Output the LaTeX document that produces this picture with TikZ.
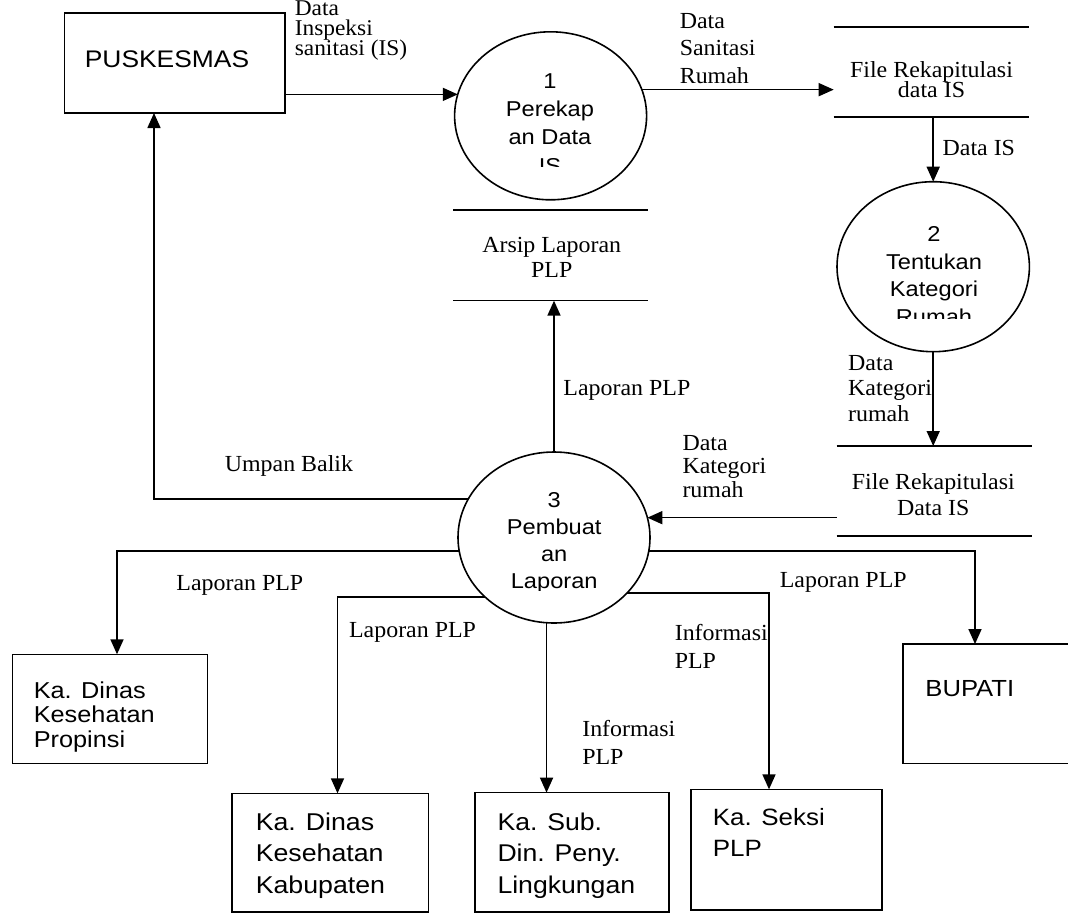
\documentclass[tikz,border=0pt]{standalone}
\usepackage{fontspec}
\setmainfont{Liberation Serif}
\newfontfamily\lblserif{Liberation Serif}[FakeStretch=1.04]
\newfontfamily\lblsans{Liberation Sans}[FakeStretch=1.1]
\usetikzlibrary{arrows.meta,shapes.geometric}

\begin{document}
\begin{tikzpicture}[x=1pt, y=-1pt, line width=1.6pt,
  flow/.style={draw, -{Triangle[length=15pt,width=13pt]}},
  entity/.style 2 args={draw, rectangle, inner sep=0pt, outer sep=0pt,
    minimum width=#1, minimum height=#2},
  store/.style 2 args={rectangle, inner sep=0pt, outer sep=0pt,
    minimum width=#1, minimum height=#2},
  proc/.style 2 args={draw, ellipse, inner sep=0pt, outer sep=0pt,
    minimum width=#1, minimum height=#2},
  serif/.style 2 args={inner sep=0pt, align=left,
    font={\lblserif\fontsize{#1}{#2}\selectfont\lineskiplimit=-100pt}},
  sans/.style 2 args={inner sep=0pt, align=left,
    font={\lblsans\fontsize{#1}{#2}\selectfont\lineskiplimit=-100pt}},
]
\useasboundingbox (0,0) rectangle (1068,914);
% note: text nodes are placed at the baseline of their last line

% external entities
\node[entity={220.6pt}{100pt}] (PUSK) at (174.7,63) {};
\node[sans={24}{28}, anchor=base] (PUSKt) at (167,67) {PUSKESMAS};
\node[entity={195pt}{109pt}] (Prop) at (109.8,708.8) {};
\node[sans={23}{24.5}, anchor=base west] (Propt) at (33,747) {Ka. Dinas\\Kesehatan\\Propinsi};
\node[entity={196.6pt}{118.7pt}] (Kab) at (330,852.7) {};
\node[sans={24.3}{31.6}, anchor=base west] (Kabt) at (255,893.2) {Ka. Dinas\\Kesehatan\\Kabupaten};
\node[entity={194pt}{119.3pt}] (Sub) at (572,852.3) {};
\node[sans={24.2}{31.6}, anchor=base west] (Subt) at (496.7,893.2) {Ka. Sub.\\Din. Peny.\\Lingkungan};
\node[entity={191pt}{120.7pt}] (Sek) at (786.5,849.7) {};
\node[sans={23.6}{31.7}, anchor=base west] (Sekt) at (712,856.7) {Ka. Seksi\\PLP};
\node[entity={197pt}{119.3pt}] (Bup) at (1001.5,703.7) {};
\node[sans={23.3}{28}, anchor=base west] (Bupt) at (924.6,696.7) {BUPATI};

% processes (their text boxes cut off the last line)
\node[proc={192pt}{168pt}] (P1) at (550.6,115.8) {};
\node[proc={192.4pt}{170pt}] (P2) at (933.2,266.7) {};
\node[proc={192pt}{171pt}] (P3) at (554,537.5) {};
\begin{scope}
  \clip (450,30) rectangle (650,166.7);
  \node[sans={21.5}{28.3}, align=center, anchor=base] (P1t) at (550,173.2) {1\\Perekap\\an Data\\IS};
\end{scope}
\begin{scope}
  \clip (835,180) rectangle (1032,318.3);
  \node[sans={21.5}{27.7}, align=center, anchor=base] (P2t) at (934,324.6) {2\\Tentukan\\Kategori\\Rumah};
\end{scope}
\begin{scope}
  \clip (455,450) rectangle (652,590);
  \node[sans={21.5}{27}, align=center, anchor=base] (P3t) at (554.2,588) {3\\Pembuat\\an\\Laporan};
\end{scope}

% data stores
\node[store={195.6pt}{90pt}] (S1) at (931.5,71.7) {};
\node[serif={23}{20.6}, align=center, anchor=base] (S1t) at (931.5,97.8) {File Rekapitulasi\\data IS};
\node[store={195pt}{90pt}] (S3) at (934.2,491) {};
\node[serif={23}{25.5}, align=center, anchor=base] (S3t) at (933.3,515) {File Rekapitulasi\\Data IS};
\node[store={195pt}{90.7pt}] (Ars) at (550.8,255.3) {};
\node[serif={23}{25}, align=center, anchor=base] (Arst) at (551.7,277) {Arsip Laporan\\PLP};
\foreach \s in {S1,S3,Ars}
  \draw (\s.north west) -- (\s.north east) (\s.south west) -- (\s.south east);

% data flows
\draw[flow] (PUSK.east |- P1.167) -- (P1.167);
\draw[flow] (P1.16) -- (S1.west |- P1.16);
\draw[flow] (S1.south -| P2.north) -- (P2.north);
\draw[flow] (P2.south) -- (P2.south |- S3.north);
\draw[flow] (S3.west |- P3.12) -- (P3.12);
\draw[flow] (P3.north) -- (P3.north |- Ars.south);
\draw[flow] (P3.156) -| ([xshift=-20.7pt]PUSK.south);
\draw[flow] (P3.188) -| ([xshift=7.2pt]Prop.north);
\draw[flow] (P3.221) -| ([xshift=7.5pt]Kab.north);
\draw[flow] (P3.265) -- (P3.265 |- Sub.north);
\draw[flow] (P3.323) -| ([xshift=-17.5pt]Sek.north);
\draw[flow] (P3.352) -| ([xshift=-26.5pt]Bup.north);

% flow labels
\node[serif={22.5}{20.2}, anchor=base west] (lIS) at (294,55.9) {Data\\Inspeksi\\sanitasi (IS)};
\node[serif={23}{27.5}, anchor=base west] (lSan) at (679,83.3) {Data\\Sanitasi\\Rumah};
\node[serif={23}{25}, anchor=base west] (lDIS) at (941.8,155) {Data IS};
\node[serif={23}{25.8}, anchor=base west] (lKat1) at (847.4,421.6) {Data\\Kategori\\rumah};
\node[serif={23}{23.5}, anchor=base west] (lKat2) at (681.7,497) {Data\\Kategori\\rumah};
\node[serif={23}{25}, anchor=base west] (lUp) at (562.6,395) {Laporan PLP};
\node[serif={23}{25}, anchor=base west] (lUmp) at (224,471.7) {Umpan Balik};
\node[serif={23}{25}, anchor=base west] (lLap1) at (175.6,590) {Laporan PLP};
\node[serif={23}{25}, anchor=base west] (lLap2) at (348.3,637.5) {Laporan PLP};
\node[serif={23}{28}, anchor=base west] (lInf1) at (581.5,764) {Informasi\\PLP};
\node[serif={23}{28}, anchor=base west] (lInf2) at (674,668) {Informasi\\PLP};
\node[serif={23}{25}, anchor=base west] (lLap3) at (779,587) {Laporan PLP};
\end{tikzpicture}
\end{document}
